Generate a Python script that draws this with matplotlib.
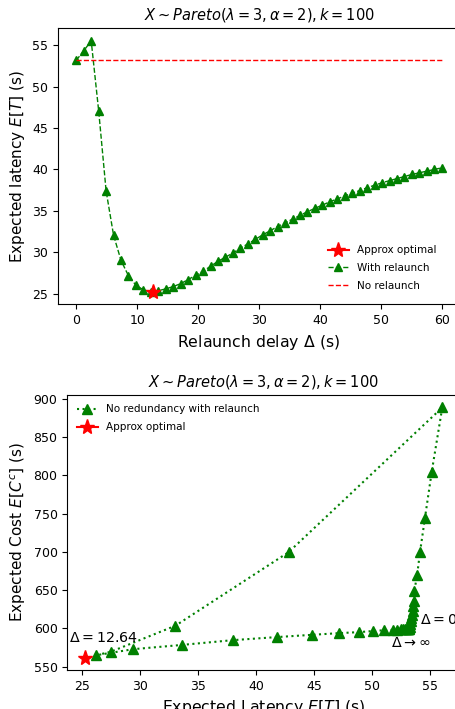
import numpy as np
import matplotlib
matplotlib.use("Agg")
import matplotlib.pyplot as plt

# ---- Top chart data ----
delta = np.linspace(0, 60, 50)
latency_relaunch = [53.2, 54.35, 55.55, 47.1, 37.4, 32.05, 29.0, 27.15, 26.0, 25.45,
                    25.25, 25.35, 25.57, 25.85, 26.2, 26.7, 27.2, 27.7, 28.3, 28.9,
                    29.4, 29.9, 30.5, 31.0, 31.55, 32.1, 32.6, 33.1, 33.55, 34.0,
                    34.45, 34.9, 35.3, 35.7, 36.1, 36.45, 36.8, 37.15, 37.45, 37.8,
                    38.1, 38.4, 38.65, 38.9, 39.15, 39.4, 39.6, 39.8, 40.0, 40.2]
latency_no_relaunch = 53.2
opt_delta = 12.64
opt_latency = 25.22

# ---- Bottom chart data (E[T], E[C^c]) ----
cost_latency = [53.2, 53.25, 53.3, 53.35, 53.4, 53.45, 53.5, 53.55, 53.6, 53.66,
                53.9, 54.15, 54.58, 55.15, 56.07,
                42.8, 33.02, 27.43, 26.2, 29.39, 33.62, 37.98, 41.77, 44.83, 47.18,
                48.87, 50.13, 51.08, 51.79, 52.2, 52.5, 52.7, 52.85, 52.95, 53.03,
                53.08, 53.12, 53.15, 53.17]
cost_values = [600, 602, 605, 609, 613, 618, 623, 629, 636, 649,
               670, 700, 745, 804, 889,
               699.6, 603.3, 569.2, 564.8, 572.7, 578.3, 584.5, 588.5, 591.5, 593.7,
               595.0, 596.5, 597.5, 598.0, 598.3, 598.5, 598.7, 598.8, 599.0, 599.0,
               599.1, 599.2, 599.2, 599.3]
opt_cost_latency = 25.22
opt_cost = 561.8

title = r"$X \sim Pareto(\lambda = 3, \alpha = 2), k = 100$"

fig = plt.figure(figsize=(4.55, 7.09), dpi=100)

# ---- Top axes ----
ax1 = fig.add_axes([0.1275, 0.5708, 0.8835, 0.3893])
ax1.plot(delta, latency_relaunch, color="green", ls="--", lw=1, marker="^",
         ms=6, label="With relaunch")
ax1.plot([0, 60], [latency_no_relaunch, latency_no_relaunch], color="red",
         ls="--", lw=1, label="No relaunch")
ax1.plot([opt_delta], [opt_latency], color="red", marker="*", ms=11,
         label="Approx optimal")
ax1.set_title(title, fontsize=10.5)
ax1.set_xlabel(r"Relaunch delay $\Delta$ (s)", fontsize=11.3)
ax1.set_ylabel(r"Expected latency $E[T]$ (s)", fontsize=11)
ax1.set_xticks([0, 10, 20, 30, 40, 50, 60])
ax1.set_yticks([25, 30, 35, 40, 45, 50, 55])
h, l = ax1.get_legend_handles_labels()
order = [2, 0, 1]
ax1.legend([h[i] for i in order], [l[i] for i in order], loc="lower right",
           bbox_to_anchor=(0.965, 0.015), frameon=False, fontsize=7.5,
           labelspacing=0.75)

# ---- Bottom axes ----
ax2 = fig.add_axes([0.148, 0.055, 0.863, 0.3879])
ax2.plot(cost_latency, cost_values, color="green", ls=":", lw=1.5, marker="^",
         ms=7, label="No redundancy with relaunch")
ax2.plot([opt_cost_latency], [opt_cost], color="red", marker="*", ms=11,
         label="Approx optimal")
ax2.set_title(title, fontsize=10.5)
ax2.set_xlabel(r"Expected Latency $E[T]$ (s)", fontsize=11.3)
ax2.set_ylabel(r"Expected Cost $E[C^c]$ (s)", fontsize=11)
ax2.set_xlim(23.7, 57.6)
ax2.set_xticks([25, 30, 35, 40, 45, 50, 55])
ax2.set_yticks([550, 600, 650, 700, 750, 800, 850, 900])
ax2.legend(loc="upper left", frameon=False, fontsize=7.5, labelspacing=0.75)
ax2.text(23.82, 582, r"$\Delta = 12.64$", fontsize=10.3)
ax2.text(54.15, 605, r"$\Delta = 0$", fontsize=10.3)
ax2.text(51.65, 576, r"$\Delta \to \infty$", fontsize=10.3)

for ax in (ax1, ax2):
    ax.tick_params(labelsize=9)

fig.savefig("out.png", dpi=100)
